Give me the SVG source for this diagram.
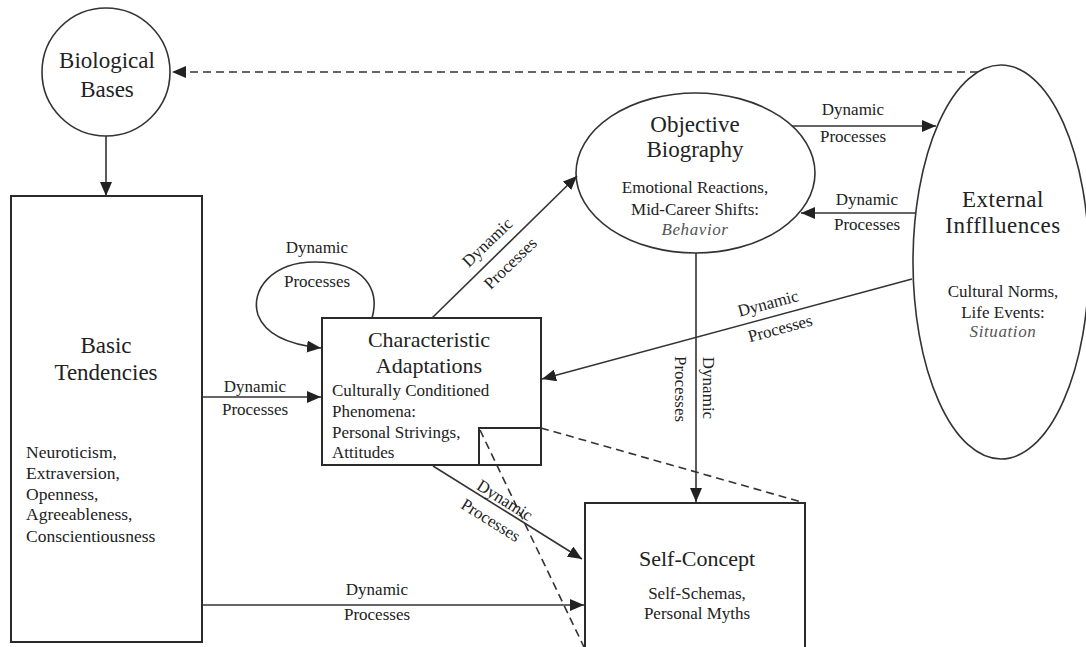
<svg xmlns="http://www.w3.org/2000/svg" width="1086" height="647" viewBox="0 0 1086 647">
<style>
text{font-family:"Liberation Serif","Times New Roman",serif;fill:#222}
.t{font-size:23px}
.t22{font-size:22px}
.s{font-size:17px}
.lbl{font-size:17px;text-anchor:middle}
.it{font-style:italic;fill:#555;letter-spacing:0.6px}
.shape{fill:#fff;stroke:#333;stroke-width:1.6}
.box{fill:none;stroke:#2a2a2a;stroke-width:2}
.ln{fill:none;stroke:#333;stroke-width:1.6}
.dash{fill:none;stroke:#333;stroke-width:1.6;stroke-dasharray:8 5}
.mid{text-anchor:middle}
</style>
<defs>
<marker id="ah" viewBox="0 0 14 12" refX="14" refY="6" markerWidth="14" markerHeight="12" markerUnits="userSpaceOnUse" orient="auto"><path d="M0,0 L14,6 L0,12 z" fill="#222"/></marker>
</defs>
<rect width="1086" height="647" fill="#fff"/>

<g id="bio">
<circle class="shape" cx="106" cy="72" r="64"/>
<text class="t mid" x="107" y="68">Biological</text>
<text class="t mid" x="107" y="97">Bases</text>
</g>

<g id="basic">
<rect class="box" x="11" y="196" width="191" height="446"/>
<text class="t mid" x="106" y="353">Basic</text>
<text class="t mid" x="106" y="380">Tendencies</text>
<text class="s" x="26" y="458" style="font-size:17.5px">Neuroticism,</text>
<text class="s" x="26" y="479" style="font-size:17.5px">Extraversion,</text>
<text class="s" x="26" y="500" style="font-size:17.5px">Openness,</text>
<text class="s" x="26" y="520" style="font-size:17.5px">Agreeableness,</text>
<text class="s" x="26" y="542" style="font-size:17.5px">Conscientiousness</text>
</g>

<g id="char">
<rect class="box" x="322" y="318" width="219" height="147"/>
<rect class="box" x="479" y="428" width="62" height="37"/>
<text class="t22 mid" x="429" y="347">Characteristic</text>
<text class="t22 mid" x="429" y="373">Adaptations</text>
<text class="s" x="332" y="396">Culturally Conditioned</text>
<text class="s" x="332" y="417">Phenomena:</text>
<text class="s" x="332" y="438">Personal Strivings,</text>
<text class="s" x="332" y="458">Attitudes</text>
</g>

<g id="objective">
<ellipse class="shape" cx="695.5" cy="173" rx="119.5" ry="80"/>
<text class="t mid" x="695" y="132">Objective</text>
<text class="t mid" x="695" y="157">Biography</text>
<text class="s mid" x="695" y="193">Emotional Reactions,</text>
<text class="s mid" x="695" y="215">Mid-Career Shifts:</text>
<text class="s mid it" x="695" y="235">Behavior</text>
</g>

<g id="external">
<ellipse class="shape" cx="1001" cy="262" rx="88" ry="197"/>
<text class="t mid" x="1003" y="207" style="letter-spacing:0.5px">External</text>
<text class="t mid" x="1003" y="233" style="letter-spacing:0.5px">Infflluences</text>
<text class="s mid" x="1003" y="297">Cultural Norms,</text>
<text class="s mid" x="1003" y="318">Life Events:</text>
<text class="s mid it" x="1003" y="337">Situation</text>
</g>

<g id="self">
<rect class="box" x="585" y="503" width="220" height="160"/>
<text class="t22 mid" x="697" y="566">Self-Concept</text>
<text class="s mid" x="697" y="599">Self-Schemas,</text>
<text class="s mid" x="697" y="619">Personal Myths</text>
</g>

<g id="connectors">
<line class="dash" x1="978" y1="72" x2="172" y2="72" marker-end="url(#ah)"/>
<line class="ln" x1="106" y1="136" x2="106" y2="196" marker-end="url(#ah)"/>
<line class="ln" x1="202" y1="397" x2="321" y2="397" marker-end="url(#ah)"/>
<line class="ln" x1="202" y1="605" x2="584" y2="605" marker-end="url(#ah)"/>
<path class="ln" d="M372,318 C380,290 365,262 315,262 C272,262 250,290 258,315 C266,336 292,345 321,348" marker-end="url(#ah)"/>
<line class="ln" x1="432" y1="318" x2="577" y2="176" marker-end="url(#ah)"/>
<line class="ln" x1="792" y1="126" x2="936" y2="126" marker-end="url(#ah)"/>
<line class="ln" x1="916" y1="213" x2="801" y2="213" marker-end="url(#ah)"/>
<line class="ln" x1="912" y1="279" x2="542" y2="379" marker-end="url(#ah)"/>
<line class="ln" x1="696" y1="253" x2="696" y2="502" marker-end="url(#ah)"/>
<line class="ln" x1="433" y1="466" x2="582" y2="559" marker-end="url(#ah)"/>
<line class="dash" x1="480" y1="430" x2="584" y2="647"/>
<line class="dash" x1="541" y1="428" x2="805" y2="503"/>

<text class="lbl" x="255" y="392">Dynamic</text>
<text class="lbl" x="255" y="415">Processes</text>
<text class="lbl" x="377" y="595">Dynamic</text>
<text class="lbl" x="377" y="620">Processes</text>
<text class="lbl" x="317" y="253">Dynamic</text>
<text class="lbl" x="317" y="287">Processes</text>
<text class="lbl" x="853" y="115">Dynamic</text>
<text class="lbl" x="853" y="142">Processes</text>
<text class="lbl" x="867" y="205">Dynamic</text>
<text class="lbl" x="867" y="230">Processes</text>
<text class="lbl" transform="translate(487,242) rotate(-44)" y="6">Dynamic</text>
<text class="lbl" transform="translate(510,263) rotate(-44)" y="6">Processes</text>
<text class="lbl" transform="translate(768,303) rotate(-15)" y="6">Dynamic</text>
<text class="lbl" transform="translate(780,328) rotate(-15)" y="6">Processes</text>
<text class="lbl" transform="translate(505,500) rotate(32)" y="6">Dynamic</text>
<text class="lbl" transform="translate(491,520) rotate(32)" y="6">Processes</text>
<text class="lbl" transform="translate(709,388) rotate(90)" y="6">Dynamic</text>
<text class="lbl" transform="translate(681,389) rotate(90)" y="6">Processes</text>
</g>
</svg>
